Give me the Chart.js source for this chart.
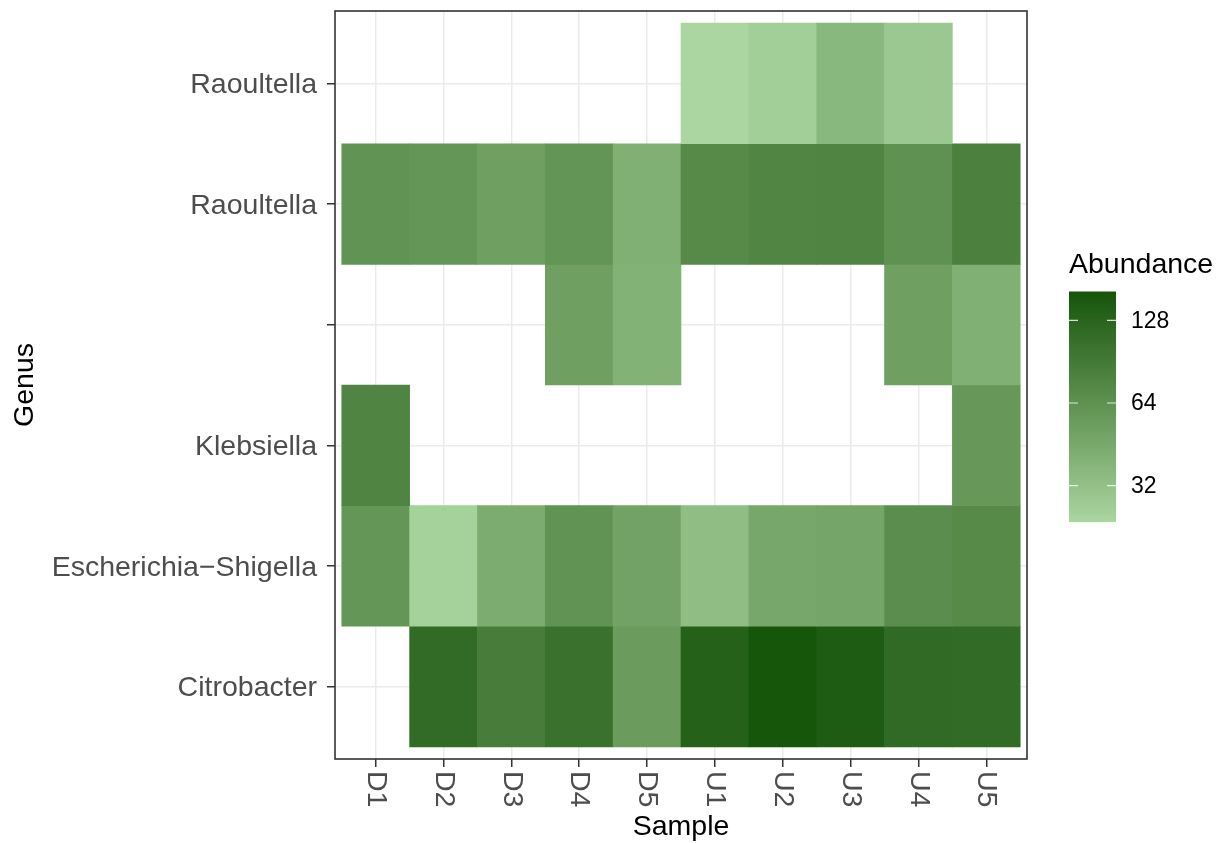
<!DOCTYPE html>
<html>
<head>
<meta charset="utf-8">
<script src="https://cdn.jsdelivr.net/npm/chart.js@4.4.1/dist/chart.umd.min.js"></script>
<style>
  html, body { margin: 0; padding: 0; background: #fff; }
  #wrap { width: 1220px; height: 843px; }
</style>
</head>
<body>
<div id="wrap"><canvas id="heat" width="1220" height="843"></canvas></div>
<script>
// samples on x
const samples = ["D1", "D2", "D3", "D4", "D5", "U1", "U2", "U3", "U4", "U5"];
// genus rows, bottom -> top
const genera = ["Citrobacter", "Escherichia\u2212Shigella", "Klebsiella", "", "Raoultella", "Raoultella"];

// abundance per row, null = no tile
const citrobacter   = [null, 117, 89, 106, 55, 136, 163, 148, 119, 117];
const escherichia   = [60, 25.6, 43.5, 63, 50, 34, 47, 48, 68, 72];
const klebsiella    = [79, null, null, null, null, null, null, null, null, 58];
const unnamed       = [null, null, null, 52, 40, null, null, null, 52, 41];
const raoultella    = [63, 60, 52, 61, 41, 72, 78, 79, 64, 84];
const raoultellaTop = [null, null, null, null, null, 23.7, 26.6, 36.7, 29.3, null];
const rows = [citrobacter, escherichia, klebsiella, unnamed, raoultella, raoultellaTop];

// colourbar breaks
const legendBreaks = [32, 64, 128];

const lowCol = "#abd6a1";
const highCol = "#15560a";
const FONT = "'Liberation Sans', Arial, sans-serif";

// lab helpers, gradient is interpolated in Lab like ggplot does
function toLab(hex) {
  const n = parseInt(hex.slice(1), 16);
  const [r, g, b] = [(n >> 16) & 255, (n >> 8) & 255, n & 255].map(v => {
    v /= 255;
    return v <= 0.04045 ? v / 12.92 : Math.pow((v + 0.055) / 1.055, 2.4);
  });
  const X = (0.4124 * r + 0.3576 * g + 0.1805 * b) / 0.95047;
  const Y = 0.2126 * r + 0.7152 * g + 0.0722 * b;
  const Z = (0.0193 * r + 0.1192 * g + 0.9505 * b) / 1.08883;
  const f = t => t > 0.008856 ? Math.cbrt(t) : 7.787 * t + 16 / 116;
  return [116 * f(Y) - 16, 500 * (f(X) - f(Y)), 200 * (f(Y) - f(Z))];
}
function fromLab(L, a, b) {
  const fy = (L + 16) / 116, fx = fy + a / 500, fz = fy - b / 200;
  const inv = t => t * t * t > 0.008856 ? t * t * t : (t - 16 / 116) / 7.787;
  const X = inv(fx) * 0.95047, Y = inv(fy), Z = inv(fz) * 1.08883;
  const r = 3.2406 * X - 1.5372 * Y - 0.4986 * Z;
  const g = -0.9689 * X + 1.8758 * Y + 0.0415 * Z;
  const bb = 0.0557 * X - 0.2040 * Y + 1.0570 * Z;
  const gam = v => {
    v = v <= 0.0031308 ? 12.92 * v : 1.055 * Math.pow(v, 1 / 2.4) - 0.055;
    return Math.round(Math.max(0, Math.min(1, v)) * 255);
  };
  return `rgb(${gam(r)},${gam(g)},${gam(bb)})`;
}

const all = rows.flat().filter(v => v != null);
const lo = Math.min(...all), hi = Math.max(...all);
const labLo = toLab(lowCol), labHi = toLab(highCol);
const frac = v => (Math.log2(v) - Math.log2(lo)) / (Math.log2(hi) - Math.log2(lo));
function fillFor(v) {
  const t = Math.max(0, Math.min(1, frac(v)));
  return fromLab(...labLo.map((c, k) => c + (labHi[k] - c) * t));
}

// one tile per non-empty cell
const cells = [];
rows.forEach((row, r) => row.forEach((v, i) => {
  if (v != null) cells.push({ x: i, y: [r - 0.5, r + 0.5], v: v });
}));

// panel border + rotated sample labels + colourbar
const extras = {
  id: "extras",
  afterDatasetsDraw(chart) {
    const { ctx, chartArea: a } = chart;
    ctx.save();
    ctx.strokeStyle = "#333333";
    ctx.lineWidth = 1.6;
    ctx.strokeRect(a.left, a.top, a.right - a.left, a.bottom - a.top);
    ctx.restore();
  },
  afterDraw(chart) {
    const ctx = chart.ctx;
    const xs = chart.scales.x;
    ctx.save();
    ctx.font = `28.5px ${FONT}`;
    ctx.fillStyle = "#4d4d4d";
    ctx.textAlign = "left";
    ctx.textBaseline = "middle";
    samples.forEach((s, i) => {
      ctx.save();
      ctx.translate(xs.getPixelForValue(i), xs.top + 8 + 4);
      ctx.rotate(Math.PI / 2);
      ctx.fillText(s, 0, 0);
      ctx.restore();
    });

    // legend
    const bx = 1069, by = 291.5, bw = 47, bh = 230;
    ctx.fillStyle = "#000";
    ctx.textBaseline = "alphabetic";
    ctx.font = `28.5px ${FONT}`;
    ctx.fillText("Abundance", bx, 273);
    const steps = 230;
    for (let k = 0; k < steps; k++) {
      const t = (k + 0.5) / steps;
      const v = Math.pow(2, Math.log2(lo) + t * (Math.log2(hi) - Math.log2(lo)));
      ctx.fillStyle = fillFor(v);
      ctx.fillRect(bx, by + bh - (k + 1) * bh / steps, bw, bh / steps + 0.6);
    }
    ctx.font = `23px ${FONT}`;
    ctx.textBaseline = "middle";
    legendBreaks.forEach(b => {
      const y = by + bh - frac(b) * bh;
      ctx.strokeStyle = "rgba(255,255,255,0.8)";
      ctx.lineWidth = 1.2;
      ctx.beginPath();
      ctx.moveTo(bx, y); ctx.lineTo(bx + 9, y);
      ctx.moveTo(bx + bw - 9, y); ctx.lineTo(bx + bw, y);
      ctx.stroke();
      ctx.fillStyle = "#000";
      ctx.fillText(String(b), bx + bw + 15, y + 1);
    });
    ctx.restore();
  }
};

new Chart(document.getElementById("heat").getContext("2d"), {
  type: "bar",
  data: {
    datasets: [{
      data: cells,
      backgroundColor: cells.map(c => fillFor(c.v)),
      borderWidth: 0,
      barPercentage: 1,
      categoryPercentage: 1
    }]
  },
  options: {
    responsive: false,
    animation: false,
    layout: { padding: { top: 11, right: 193, bottom: 0, left: 0 } },
    plugins: { legend: { display: false }, tooltip: { enabled: false } },
    scales: {
      x: {
        type: "linear",
        offset: false,
        min: -0.6,
        max: samples.length - 0.4,
        afterBuildTicks: s => { s.ticks = samples.map((_, i) => ({ value: i })); },
        afterFit: s => { s.height = 84; s.paddingLeft = 0; s.paddingRight = 0; },
        ticks: { display: false },
        grid: { offset: false, color: "#ebebeb", lineWidth: 1.5, tickColor: "#333333", tickWidth: 1.5, tickLength: 8 },
        border: { display: false },
        title: { display: true, text: "Sample", color: "#000", font: { family: FONT, size: 28.5 }, padding: { top: 0, bottom: -1 } }
      },
      y: {
        type: "linear",
        offset: false,
        min: -0.6,
        max: genera.length - 0.4,
        afterBuildTicks: s => { s.ticks = genera.map((_, i) => ({ value: i })); },
        afterFit: s => { s.width = 335; s.paddingTop = 0; s.paddingBottom = 0; },
        ticks: { color: "#4d4d4d", font: { family: FONT, size: 28.5 }, padding: 10, labelOffset: 2, callback: v => genera[v] },
        grid: { offset: false, color: "#ebebeb", lineWidth: 1.5, tickColor: "#333333", tickWidth: 1.5, tickLength: 8 },
        border: { display: false },
        title: { display: true, text: "Genus", color: "#000", font: { family: FONT, size: 28.5 }, padding: { top: 8, bottom: 0 } }
      }
    }
  },
  plugins: [extras]
});
</script>
</body>
</html>
